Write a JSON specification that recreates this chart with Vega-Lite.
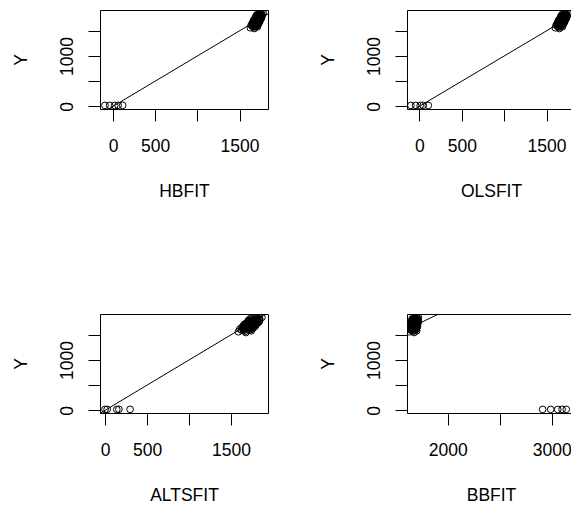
{
  "$schema": "https://vega.github.io/schema/vega-lite/v6.json",
  "background": "white",
  "padding": {"left": 12, "top": 9, "right": 0, "bottom": 0},
  "bounds": "flush",
  "columns": 2,
  "spacing": {"row": 205, "column": 139},
  "datasets": {
    "fits": [
      {"Y": 1545, "HBFIT": 1675, "OLSFIT": 1650, "ALTSFIT": 1676, "BBFIT": 1677},
      {"Y": 1560, "HBFIT": 1628, "OLSFIT": 1603, "ALTSFIT": 1588, "BBFIT": 1634},
      {"Y": 1572, "HBFIT": 1674, "OLSFIT": 1649, "ALTSFIT": 1673, "BBFIT": 1671},
      {"Y": 1580, "HBFIT": 1711, "OLSFIT": 1686, "ALTSFIT": 1742, "BBFIT": 1702},
      {"Y": 1588, "HBFIT": 1660, "OLSFIT": 1635, "ALTSFIT": 1648, "BBFIT": 1657},
      {"Y": 1595, "HBFIT": 1648, "OLSFIT": 1623, "ALTSFIT": 1625, "BBFIT": 1646},
      {"Y": 1600, "HBFIT": 1706, "OLSFIT": 1681, "ALTSFIT": 1732, "BBFIT": 1694},
      {"Y": 1605, "HBFIT": 1672, "OLSFIT": 1647, "ALTSFIT": 1670, "BBFIT": 1665},
      {"Y": 1610, "HBFIT": 1699, "OLSFIT": 1674, "ALTSFIT": 1720, "BBFIT": 1687},
      {"Y": 1615, "HBFIT": 1638, "OLSFIT": 1613, "ALTSFIT": 1605, "BBFIT": 1634},
      {"Y": 1620, "HBFIT": 1692, "OLSFIT": 1667, "ALTSFIT": 1707, "BBFIT": 1680},
      {"Y": 1624, "HBFIT": 1665, "OLSFIT": 1640, "ALTSFIT": 1657, "BBFIT": 1656},
      {"Y": 1628, "HBFIT": 1721, "OLSFIT": 1696, "ALTSFIT": 1761, "BBFIT": 1703},
      {"Y": 1632, "HBFIT": 1657, "OLSFIT": 1632, "ALTSFIT": 1641, "BBFIT": 1647},
      {"Y": 1636, "HBFIT": 1690, "OLSFIT": 1665, "ALTSFIT": 1703, "BBFIT": 1675},
      {"Y": 1640, "HBFIT": 1712, "OLSFIT": 1687, "ALTSFIT": 1744, "BBFIT": 1694},
      {"Y": 1643, "HBFIT": 1680, "OLSFIT": 1655, "ALTSFIT": 1683, "BBFIT": 1665},
      {"Y": 1646, "HBFIT": 1651, "OLSFIT": 1626, "ALTSFIT": 1630, "BBFIT": 1640},
      {"Y": 1650, "HBFIT": 1704, "OLSFIT": 1679, "ALTSFIT": 1729, "BBFIT": 1685},
      {"Y": 1653, "HBFIT": 1725, "OLSFIT": 1700, "ALTSFIT": 1767, "BBFIT": 1702},
      {"Y": 1656, "HBFIT": 1671, "OLSFIT": 1646, "ALTSFIT": 1667, "BBFIT": 1656},
      {"Y": 1659, "HBFIT": 1701, "OLSFIT": 1676, "ALTSFIT": 1723, "BBFIT": 1681},
      {"Y": 1662, "HBFIT": 1663, "OLSFIT": 1638, "ALTSFIT": 1652, "BBFIT": 1648},
      {"Y": 1665, "HBFIT": 1714, "OLSFIT": 1689, "ALTSFIT": 1747, "BBFIT": 1691},
      {"Y": 1668, "HBFIT": 1693, "OLSFIT": 1668, "ALTSFIT": 1707, "BBFIT": 1672},
      {"Y": 1671, "HBFIT": 1737, "OLSFIT": 1712, "ALTSFIT": 1789, "BBFIT": 1710},
      {"Y": 1674, "HBFIT": 1683, "OLSFIT": 1658, "ALTSFIT": 1690, "BBFIT": 1663},
      {"Y": 1677, "HBFIT": 1726, "OLSFIT": 1701, "ALTSFIT": 1769, "BBFIT": 1700},
      {"Y": 1680, "HBFIT": 1660, "OLSFIT": 1635, "ALTSFIT": 1646, "BBFIT": 1642},
      {"Y": 1683, "HBFIT": 1701, "OLSFIT": 1676, "ALTSFIT": 1723, "BBFIT": 1678},
      {"Y": 1686, "HBFIT": 1723, "OLSFIT": 1698, "ALTSFIT": 1764, "BBFIT": 1696},
      {"Y": 1689, "HBFIT": 1678, "OLSFIT": 1653, "ALTSFIT": 1680, "BBFIT": 1657},
      {"Y": 1692, "HBFIT": 1715, "OLSFIT": 1690, "ALTSFIT": 1749, "BBFIT": 1688},
      {"Y": 1695, "HBFIT": 1670, "OLSFIT": 1645, "ALTSFIT": 1665, "BBFIT": 1649},
      {"Y": 1698, "HBFIT": 1739, "OLSFIT": 1714, "ALTSFIT": 1794, "BBFIT": 1708},
      {"Y": 1700, "HBFIT": 1698, "OLSFIT": 1673, "ALTSFIT": 1717, "BBFIT": 1672},
      {"Y": 1703, "HBFIT": 1724, "OLSFIT": 1699, "ALTSFIT": 1765, "BBFIT": 1694},
      {"Y": 1706, "HBFIT": 1687, "OLSFIT": 1662, "ALTSFIT": 1697, "BBFIT": 1662},
      {"Y": 1709, "HBFIT": 1667, "OLSFIT": 1642, "ALTSFIT": 1660, "BBFIT": 1644},
      {"Y": 1712, "HBFIT": 1718, "OLSFIT": 1693, "ALTSFIT": 1755, "BBFIT": 1688},
      {"Y": 1715, "HBFIT": 1739, "OLSFIT": 1714, "ALTSFIT": 1793, "BBFIT": 1705},
      {"Y": 1718, "HBFIT": 1698, "OLSFIT": 1673, "ALTSFIT": 1717, "BBFIT": 1669},
      {"Y": 1721, "HBFIT": 1717, "OLSFIT": 1692, "ALTSFIT": 1752, "BBFIT": 1685},
      {"Y": 1724, "HBFIT": 1683, "OLSFIT": 1658, "ALTSFIT": 1689, "BBFIT": 1655},
      {"Y": 1727, "HBFIT": 1750, "OLSFIT": 1725, "ALTSFIT": 1812, "BBFIT": 1712},
      {"Y": 1730, "HBFIT": 1713, "OLSFIT": 1688, "ALTSFIT": 1744, "BBFIT": 1680},
      {"Y": 1733, "HBFIT": 1730, "OLSFIT": 1705, "ALTSFIT": 1777, "BBFIT": 1695},
      {"Y": 1736, "HBFIT": 1679, "OLSFIT": 1654, "ALTSFIT": 1682, "BBFIT": 1650},
      {"Y": 1739, "HBFIT": 1743, "OLSFIT": 1718, "ALTSFIT": 1801, "BBFIT": 1705},
      {"Y": 1742, "HBFIT": 1702, "OLSFIT": 1677, "ALTSFIT": 1725, "BBFIT": 1669},
      {"Y": 1745, "HBFIT": 1721, "OLSFIT": 1696, "ALTSFIT": 1760, "BBFIT": 1685},
      {"Y": 1748, "HBFIT": 1752, "OLSFIT": 1727, "ALTSFIT": 1816, "BBFIT": 1710},
      {"Y": 1751, "HBFIT": 1698, "OLSFIT": 1673, "ALTSFIT": 1716, "BBFIT": 1664},
      {"Y": 1754, "HBFIT": 1760, "OLSFIT": 1735, "ALTSFIT": 1833, "BBFIT": 1717},
      {"Y": 1757, "HBFIT": 1712, "OLSFIT": 1687, "ALTSFIT": 1743, "BBFIT": 1675},
      {"Y": 1760, "HBFIT": 1696, "OLSFIT": 1671, "ALTSFIT": 1714, "BBFIT": 1661},
      {"Y": 1763, "HBFIT": 1748, "OLSFIT": 1723, "ALTSFIT": 1809, "BBFIT": 1705},
      {"Y": 1766, "HBFIT": 1719, "OLSFIT": 1694, "ALTSFIT": 1756, "BBFIT": 1680},
      {"Y": 1770, "HBFIT": 1694, "OLSFIT": 1669, "ALTSFIT": 1709, "BBFIT": 1657},
      {"Y": 1774, "HBFIT": 1736, "OLSFIT": 1711, "ALTSFIT": 1786, "BBFIT": 1693},
      {"Y": 1778, "HBFIT": 1749, "OLSFIT": 1724, "ALTSFIT": 1812, "BBFIT": 1704},
      {"Y": 1782, "HBFIT": 1711, "OLSFIT": 1686, "ALTSFIT": 1741, "BBFIT": 1671},
      {"Y": 1786, "HBFIT": 1764, "OLSFIT": 1739, "ALTSFIT": 1840, "BBFIT": 1715},
      {"Y": 1790, "HBFIT": 1694, "OLSFIT": 1669, "ALTSFIT": 1709, "BBFIT": 1655},
      {"Y": 1794, "HBFIT": 1737, "OLSFIT": 1712, "ALTSFIT": 1790, "BBFIT": 1691},
      {"Y": 1798, "HBFIT": 1751, "OLSFIT": 1726, "ALTSFIT": 1815, "BBFIT": 1702},
      {"Y": 1802, "HBFIT": 1724, "OLSFIT": 1699, "ALTSFIT": 1765, "BBFIT": 1679},
      {"Y": 1806, "HBFIT": 1765, "OLSFIT": 1740, "ALTSFIT": 1840, "BBFIT": 1713},
      {"Y": 1810, "HBFIT": 1713, "OLSFIT": 1688, "ALTSFIT": 1744, "BBFIT": 1667},
      {"Y": 1815, "HBFIT": 1752, "OLSFIT": 1727, "ALTSFIT": 1817, "BBFIT": 1700},
      {"Y": 1820, "HBFIT": 1706, "OLSFIT": 1681, "ALTSFIT": 1731, "BBFIT": 1660},
      {"Y": 1826, "HBFIT": 1743, "OLSFIT": 1718, "ALTSFIT": 1799, "BBFIT": 1691},
      {"Y": 1832, "HBFIT": 1764, "OLSFIT": 1739, "ALTSFIT": 1839, "BBFIT": 1708},
      {"Y": 1840, "HBFIT": 1739, "OLSFIT": 1714, "ALTSFIT": 1791, "BBFIT": 1685},
      {"Y": 1846, "HBFIT": 1780, "OLSFIT": 1755, "ALTSFIT": 1868, "BBFIT": 1719},
      {"Y": 1665, "HBFIT": 1678, "OLSFIT": 1653, "ALTSFIT": 1680, "BBFIT": 1660},
      {"Y": 1690, "HBFIT": 1709, "OLSFIT": 1684, "ALTSFIT": 1738, "BBFIT": 1683},
      {"Y": 1710, "HBFIT": 1680, "OLSFIT": 1655, "ALTSFIT": 1684, "BBFIT": 1655},
      {"Y": 1735, "HBFIT": 1741, "OLSFIT": 1716, "ALTSFIT": 1796, "BBFIT": 1703},
      {"Y": 1750, "HBFIT": 1716, "OLSFIT": 1691, "ALTSFIT": 1750, "BBFIT": 1679},
      {"Y": 1700, "HBFIT": 1719, "OLSFIT": 1694, "ALTSFIT": 1756, "BBFIT": 1690},
      {"Y": 1680, "HBFIT": 1678, "OLSFIT": 1653, "ALTSFIT": 1680, "BBFIT": 1658},
      {"Y": 18, "HBFIT": -95, "OLSFIT": -100, "ALTSFIT": 0, "BBFIT": 2913},
      {"Y": 19, "HBFIT": -40, "OLSFIT": -45, "ALTSFIT": 25, "BBFIT": 2990},
      {"Y": 17, "HBFIT": 20, "OLSFIT": 10, "ALTSFIT": 140, "BBFIT": 3058},
      {"Y": 20, "HBFIT": 60, "OLSFIT": 45, "ALTSFIT": 165, "BBFIT": 3100},
      {"Y": 19, "HBFIT": 115, "OLSFIT": 105, "ALTSFIT": 298, "BBFIT": 3140}
    ],
    "abline": [{"v": -1000}, {"v": 5000}]
  },
  "config": {
    "view": {"stroke": "black", "strokeWidth": 1, "fill": null},
    "axis": {
      "domain": false,
      "grid": false,
      "ticks": true,
      "tickColor": "black",
      "tickSize": 12,
      "tickWidth": 1,
      "labelFont": "Liberation Sans",
      "labelFontSize": 17.5,
      "labelColor": "black",
      "labelFlush": false,
      "labelOverlap": false,
      "labelBound": false,
      "titleFont": "Liberation Sans",
      "titleFontSize": 17.5,
      "titleFontWeight": "normal",
      "titleColor": "black",
      "format": "d"
    },
    "axisX": {"labelPadding": 16, "titlePadding": 28},
    "axisY": {"labelAngle": -90, "labelAlign": "center", "labelBaseline": "alphabetic", "labelPadding": 15.5, "titlePadding": 28}
  },
  "concat": [
    {
      "width": 168, "height": 99,
      "layer": [
        {
          "data": {"name": "fits"},
          "mark": {"type": "point", "shape": "circle", "filled": false, "color": "black", "size": 45, "strokeWidth": 1, "opacity": 1, "clip": true},
          "encoding": {
            "x": {"field": "HBFIT", "type": "quantitative", "scale": {"domain": [-154, 1837], "nice": false, "zero": false},
                  "axis": {"title": "HBFIT", "values": [0, 500, 1000, 1500], "labelExpr": "datum.value == 1000 ? '' : datum.label"}},
            "y": {"field": "Y", "type": "quantitative", "scale": {"domain": [-53, 1913], "nice": false, "zero": false},
                  "axis": {"title": "Y", "values": [0, 500, 1000, 1500], "labelExpr": "datum.value == 0 || datum.value == 1000 ? datum.label : ''"}}
          }
        },
        {
          "data": {"name": "abline"},
          "mark": {"type": "line", "clip": true, "color": "black", "strokeWidth": 1},
          "encoding": {
            "x": {"field": "v", "type": "quantitative", "scale": {"domain": [-154, 1837], "nice": false, "zero": false},
                  "axis": {"title": "HBFIT", "values": [0, 500, 1000, 1500], "labelExpr": "datum.value == 1000 ? '' : datum.label"}},
            "y": {"field": "v", "type": "quantitative", "scale": {"domain": [-53, 1913], "nice": false, "zero": false},
                  "axis": {"title": "Y", "values": [0, 500, 1000, 1500], "labelExpr": "datum.value == 0 || datum.value == 1000 ? datum.label : ''"}}
          }
        }
      ]
    },
    {
      "width": 168, "height": 99,
      "layer": [
        {
          "data": {"name": "fits"},
          "mark": {"type": "point", "shape": "circle", "filled": false, "color": "black", "size": 45, "strokeWidth": 1, "opacity": 1, "clip": true},
          "encoding": {
            "x": {"field": "OLSFIT", "type": "quantitative", "scale": {"domain": [-146, 1835], "nice": false, "zero": false},
                  "axis": {"title": "OLSFIT", "values": [0, 500, 1000, 1500], "labelExpr": "datum.value == 1000 ? '' : datum.label"}},
            "y": {"field": "Y", "type": "quantitative", "scale": {"domain": [-53, 1913], "nice": false, "zero": false},
                  "axis": {"title": "Y", "values": [0, 500, 1000, 1500], "labelExpr": "datum.value == 0 || datum.value == 1000 ? datum.label : ''"}}
          }
        },
        {
          "data": {"name": "abline"},
          "mark": {"type": "line", "clip": true, "color": "black", "strokeWidth": 1},
          "encoding": {
            "x": {"field": "v", "type": "quantitative", "scale": {"domain": [-146, 1835], "nice": false, "zero": false},
                  "axis": {"title": "OLSFIT", "values": [0, 500, 1000, 1500], "labelExpr": "datum.value == 1000 ? '' : datum.label"}},
            "y": {"field": "v", "type": "quantitative", "scale": {"domain": [-53, 1913], "nice": false, "zero": false},
                  "axis": {"title": "Y", "values": [0, 500, 1000, 1500], "labelExpr": "datum.value == 0 || datum.value == 1000 ? datum.label : ''"}}
          }
        }
      ]
    },
    {
      "width": 168, "height": 99,
      "layer": [
        {
          "data": {"name": "fits"},
          "mark": {"type": "point", "shape": "circle", "filled": false, "color": "black", "size": 45, "strokeWidth": 1, "opacity": 1, "clip": true},
          "encoding": {
            "x": {"field": "ALTSFIT", "type": "quantitative", "scale": {"domain": [-60, 1940], "nice": false, "zero": false},
                  "axis": {"title": "ALTSFIT", "values": [0, 500, 1000, 1500], "labelExpr": "datum.value == 1000 ? '' : datum.label"}},
            "y": {"field": "Y", "type": "quantitative", "scale": {"domain": [-53, 1913], "nice": false, "zero": false},
                  "axis": {"title": "Y", "values": [0, 500, 1000, 1500], "labelExpr": "datum.value == 0 || datum.value == 1000 ? datum.label : ''"}}
          }
        },
        {
          "data": {"name": "abline"},
          "mark": {"type": "line", "clip": true, "color": "black", "strokeWidth": 1},
          "encoding": {
            "x": {"field": "v", "type": "quantitative", "scale": {"domain": [-60, 1940], "nice": false, "zero": false},
                  "axis": {"title": "ALTSFIT", "values": [0, 500, 1000, 1500], "labelExpr": "datum.value == 1000 ? '' : datum.label"}},
            "y": {"field": "v", "type": "quantitative", "scale": {"domain": [-53, 1913], "nice": false, "zero": false},
                  "axis": {"title": "Y", "values": [0, 500, 1000, 1500], "labelExpr": "datum.value == 0 || datum.value == 1000 ? datum.label : ''"}}
          }
        }
      ]
    },
    {
      "width": 168, "height": 99,
      "layer": [
        {
          "data": {"name": "fits"},
          "mark": {"type": "point", "shape": "circle", "filled": false, "color": "black", "size": 45, "strokeWidth": 1, "opacity": 1, "clip": true},
          "encoding": {
            "x": {"field": "BBFIT", "type": "quantitative", "scale": {"domain": [1609, 3224], "nice": false, "zero": false},
                  "axis": {"title": "BBFIT", "values": [2000, 2500, 3000], "labelExpr": "datum.value == 2500 ? '' : datum.label"}},
            "y": {"field": "Y", "type": "quantitative", "scale": {"domain": [-53, 1913], "nice": false, "zero": false},
                  "axis": {"title": "Y", "values": [0, 500, 1000, 1500], "labelExpr": "datum.value == 0 || datum.value == 1000 ? datum.label : ''"}}
          }
        },
        {
          "data": {"name": "abline"},
          "mark": {"type": "line", "clip": true, "color": "black", "strokeWidth": 1},
          "encoding": {
            "x": {"field": "v", "type": "quantitative", "scale": {"domain": [1609, 3224], "nice": false, "zero": false},
                  "axis": {"title": "BBFIT", "values": [2000, 2500, 3000], "labelExpr": "datum.value == 2500 ? '' : datum.label"}},
            "y": {"field": "v", "type": "quantitative", "scale": {"domain": [-53, 1913], "nice": false, "zero": false},
                  "axis": {"title": "Y", "values": [0, 500, 1000, 1500], "labelExpr": "datum.value == 0 || datum.value == 1000 ? datum.label : ''"}}
          }
        }
      ]
    }
  ]
}
